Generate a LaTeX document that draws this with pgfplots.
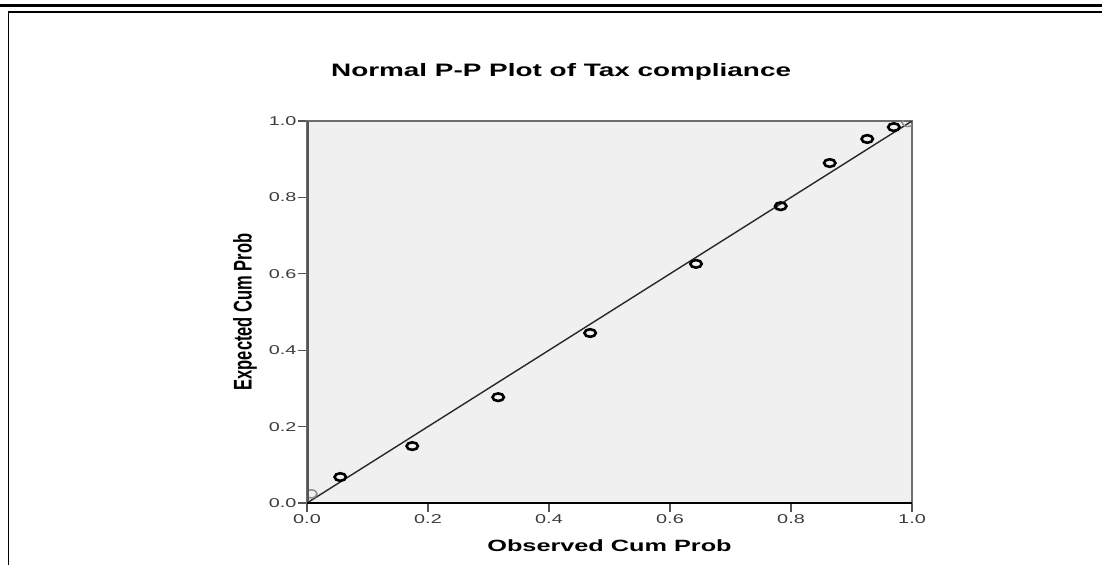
\documentclass[border=0pt]{standalone}
\usepackage{graphicx}
\usepackage{fontspec}
\setmainfont{Liberation Sans}[FakeStretch=1.55]
\newfontfamily\plainsans{Liberation Sans}
\usepackage{pgfplots}
\pgfplotsset{compat=1.18}
\definecolor{bgray}{RGB}{240,240,240}
\definecolor{spine}{RGB}{85,85,85}
\definecolor{spinelight}{RGB}{110,110,110}
\definecolor{ticklab}{RGB}{60,60,60}
\definecolor{fitline}{RGB}{40,40,40}
\definecolor{ghost}{RGB}{140,140,140}
\begin{document}
\begin{tikzpicture}
\useasboundingbox (0,0) rectangle (1102pt,565pt);
% frame lines
\draw[line width=2.5pt,black] (0,559.5pt) -- (1102pt,559.5pt);
\draw[line width=1.2pt,black] (8.3pt,553pt) -- (1102pt,553pt);
\draw[line width=1.5pt,black] (8.3pt,553pt) -- (8.3pt,0);
\begin{axis}[
  at={(307pt,62pt)}, anchor=south west,
  scale only axis, width=605pt, height=382pt,
  xmin=0, xmax=1, ymin=0, ymax=1,
  xtick={0,0.2,0.4,0.6,0.8,1.0},
  ytick={0,0.2,0.4,0.6,0.8,1.0},
  xticklabels={0.0,0.2,0.4,0.6,0.8,1.0},
  yticklabels={0.0,0.2,0.4,0.6,0.8,1.0},
  /pgf/number format/assume math mode=true,
  tick label style={font=\fontsize{12.8}{14}\selectfont, text=ticklab},
  xticklabel style={yshift=1pt},
  yticklabel style={xshift=2pt},
  tick align=outside,
  major tick length=9pt,
  xtick pos=bottom, ytick pos=left,
  x tick style={line width=2.2pt, spine},
  y tick style={line width=1.2pt, spine},
  axis background/.style={fill=bgray},
  axis line style={line width=1.3pt, spinelight},
  clip marker paths=true,
  title={\bfseries Normal P-P Plot of Tax compliance},
  title style={font=\fontsize{18}{20}\selectfont, at={(axis description cs:0.42,1.0995)}, anchor=base},
  xlabel={\bfseries Observed Cum Prob},
  xlabel style={font=\fontsize{16.3}{18}\selectfont, at={(axis description cs:0.5,-0.1257)}, anchor=base},
  ylabel={\scalebox{1}[1.55]{\plainsans\bfseries\fontsize{16.5}{18}\selectfont Expected Cum Prob}},
  ylabel style={at={(axis description cs:-0.1025,0.5)}, anchor=center, rotate=0},
]
\addplot[fitline, line width=1.4pt, forget plot] coordinates {(0,0) (1,1)};
\addplot[only marks, ghost, mark=o, mark size=4pt, mark options={xscale=1.45, line width=1.5pt}] coordinates {
  (0.007,0.024) (0.993,0.996)
};
\addplot[only marks, black, mark=o, mark size=3.8pt, mark options={xscale=1.5, line width=2.6pt}] coordinates {
  (0.055,0.068)
  (0.174,0.149)
  (0.316,0.277)
  (0.468,0.445)
  (0.643,0.626)
  (0.783,0.777)
  (0.864,0.890)
  (0.926,0.953)
  (0.970,0.984)
};
\draw[line width=3pt, spine] (rel axis cs:0,0) -- (rel axis cs:0,1);
\draw[line width=2pt, black] (rel axis cs:0,0) -- (rel axis cs:1,0);
\end{axis}
\end{tikzpicture}
\end{document}
